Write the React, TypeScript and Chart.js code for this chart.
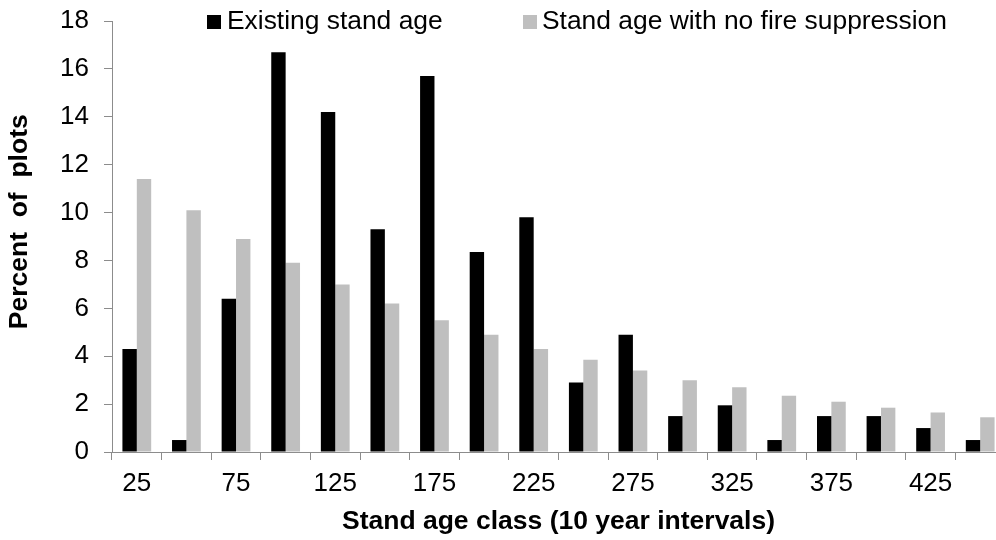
import { useEffect, useRef } from 'react';
import { Chart, registerables } from 'chart.js';

Chart.register(...registerables);

const categories = ['25', '50', '75', '100', '125', '150', '175', '200', '225', '250', '275', '300', '325', '350', '375', '400', '425', '450'];
const existingStandAge = [4.3, 0.5, 6.4, 16.7, 14.2, 9.3, 15.7, 8.35, 9.8, 2.9, 4.9, 1.5, 1.95, 0.5, 1.5, 1.5, 1.0, 0.5];
const noFireSuppression = [11.4, 10.1, 8.9, 7.9, 7.0, 6.2, 5.5, 4.9, 4.3, 3.85, 3.4, 3.0, 2.7, 2.35, 2.1, 1.85, 1.65, 1.45];
const seriesLabels = ['Existing stand age', 'Stand age with no fire suppression'];
const seriesColors = ['#000000', '#BFBFBF'];
const yMin = 0;
const yMax = 18;
const yStep = 2;
const xTitle = 'Stand age class (10 year intervals)';
const yTitle = '    Percent  of  plots';

const FONT = '"Liberation Sans", Arial, Helvetica, sans-serif';
const AXIS_GRAY = '#8C8C8C';

const legendPlugin = {
  id: 'topLegend',
  afterDraw(chart: any) {
    const ctx = chart.ctx;
    const area = chart.chartArea;
    const starts = [area.left + 95, area.left + 411];
    ctx.save();
    ctx.font = `26.4px ${FONT}`;
    ctx.textAlign = 'left';
    ctx.textBaseline = 'alphabetic';
    chart.data.datasets.forEach((ds: any, i: number) => {
      const x = starts[i];
      ctx.fillStyle = ds.backgroundColor;
      ctx.fillRect(x, 15, 14, 14);
      ctx.fillStyle = '#000000';
      ctx.fillText(ds.label, x + (i === 0 ? 20 : 19), 29);
    });
    ctx.restore();
  },
};

export default function App() {
  const ref = useRef<HTMLCanvasElement>(null);

  useEffect(() => {
    if (!ref.current) return;
    const chart = new Chart(ref.current, {
      type: 'bar',
      data: {
        labels: categories,
        datasets: [
          { label: seriesLabels[0], data: existingStandAge, backgroundColor: seriesColors[0], borderWidth: 0 },
          { label: seriesLabels[1], data: noFireSuppression, backgroundColor: seriesColors[1], borderWidth: 0 },
        ],
      },
      options: {
        responsive: false,
        animation: false,
        devicePixelRatio: 1,
        layout: { padding: { left: 0, right: 5, top: 21, bottom: 0 } },
        datasets: { bar: { categoryPercentage: 0.58, barPercentage: 1 } },
        plugins: {
          legend: { display: false },
          tooltip: { enabled: false },
        },
        scales: {
          x: {
            grid: { display: true, drawOnChartArea: false, drawTicks: true, tickLength: 8, color: AXIS_GRAY, offset: true },
            border: { display: true, color: AXIS_GRAY, width: 1 },
            ticks: {
              color: '#000000',
              font: { family: FONT, size: 26 },
              padding: 8,
              autoSkip: false,
              maxRotation: 0,
              minRotation: 0,
              callback: (_v: any, i: number) => (i % 2 === 0 ? categories[i] : ''),
            },
            title: {
              display: true,
              text: xTitle,
              color: '#000000',
              font: { family: FONT, size: 26.5, weight: 'bold' },
              padding: { top: 0, bottom: 2 },
            },
            afterFit: (s: any) => {
              s.height = 88;
              s.paddingLeft = 0;
              s.paddingRight = 0;
            },
          },
          y: {
            min: yMin,
            max: yMax,
            grid: { display: true, drawOnChartArea: false, drawTicks: true, tickLength: 8, color: AXIS_GRAY },
            border: { display: true, color: AXIS_GRAY, width: 1 },
            ticks: {
              stepSize: yStep,
              color: '#000000',
              font: { family: FONT, size: 26 },
              padding: 15,
            },
            title: {
              display: true,
              text: yTitle,
              color: '#000000',
              font: { family: FONT, size: 26.5, weight: 'bold' },
              padding: { top: 4, bottom: 0 },
            },
            afterFit: (s: any) => {
              s.width = 112;
              s.paddingTop = 0;
              s.paddingBottom = 0;
            },
          },
        },
      } as any,
      plugins: [legendPlugin],
    });
    return () => chart.destroy();
  }, []);

  return (
    <div style={{ position: 'fixed', left: 0, top: 0, width: 996, height: 540, overflow: 'hidden', background: '#ffffff' }}>
      <canvas ref={ref} width={1010} height={540} style={{ display: 'block', width: 1010, height: 540 }} />
    </div>
  );
}
